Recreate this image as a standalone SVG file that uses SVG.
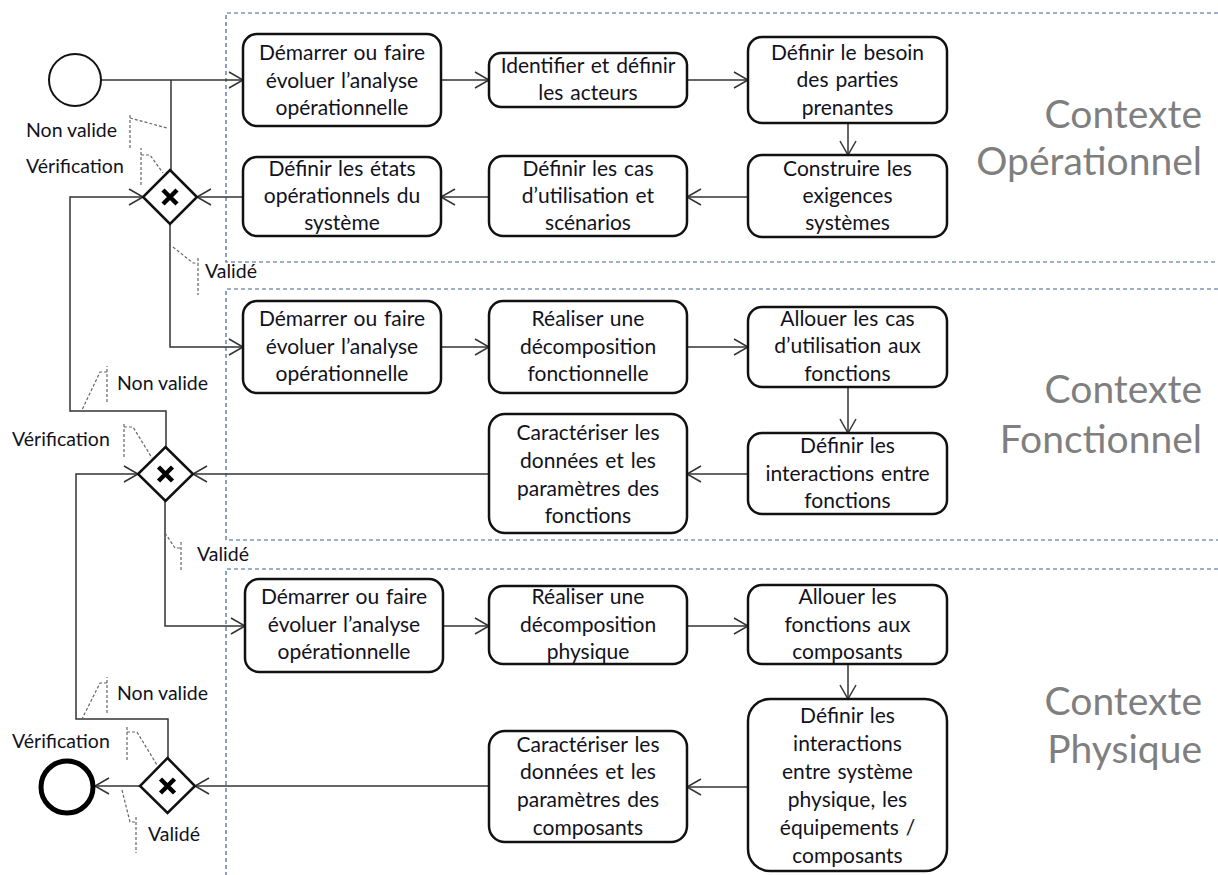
<svg xmlns="http://www.w3.org/2000/svg" width="1218" height="875" viewBox="0 0 1218 875">
<defs>
<marker id="arr" markerUnits="userSpaceOnUse" markerWidth="18" markerHeight="20" refX="15" refY="9" orient="auto">
<path d="M1,1 L15,9 L1,17" fill="none" stroke="#333" stroke-width="1.5"/>
</marker>
<style>
.box{fill:#fff;stroke:#111;stroke-width:2.5}
.t{font-family:Lato,"Open Sans",sans-serif;font-size:21px;fill:#12121c;text-anchor:middle;word-spacing:1.5px}
.lbl{font-family:Lato,"Open Sans",sans-serif;font-size:19.5px;fill:#12121c}
.ctx{font-family:Lato,"Open Sans",sans-serif;font-size:39px;fill:#7f7f7f;text-anchor:end}
.c{fill:none;stroke:#333;stroke-width:1.5}
.ca{fill:none;stroke:#333;stroke-width:1.5;marker-end:url(#arr)}
.lane{fill:none;stroke:#3f6294;stroke-width:1.2;stroke-dasharray:4 3}
.ann{fill:none;stroke:#666;stroke-width:1.2;stroke-dasharray:3 2}
.gw{fill:#fff;stroke:#111;stroke-width:2.5}
.x{stroke:#000;stroke-width:4.5;stroke-linecap:butt}
</style>
</defs>
<rect width="1218" height="875" fill="#fff"/>

<g id="lanes">
<path class="lane" d="M1225,13 H226 V262 H1225"/>
<path class="lane" d="M1225,289 H226 V540 H1225"/>
<path class="lane" d="M1225,569 H226 V880"/>
<text class="ctx" x="1202" y="128">Contexte</text>
<text class="ctx" x="1202" y="175">Opérationnel</text>
<text class="ctx" x="1202" y="403">Contexte</text>
<text class="ctx" x="1202" y="453">Fonctionnel</text>
<text class="ctx" x="1202" y="715">Contexte</text>
<text class="ctx" x="1202" y="763">Physique</text>
</g>

<g id="connectors">
<path class="ca" d="M101,80 H243"/>
<path class="c" d="M171,80 V170"/>
<path class="ca" d="M441,80 H489"/>
<path class="ca" d="M687,80 H748"/>
<path class="ca" d="M848,123 V155"/>
<path class="ca" d="M748,197 H687"/>
<path class="ca" d="M489,197 H441"/>
<path class="ca" d="M243,197 H197"/>
<path class="ca" d="M170,224 V347 H243"/>
<path class="ca" d="M166,447 V411 H70 V197 H143"/>

<path class="ca" d="M441,347 H489"/>
<path class="ca" d="M687,347 H748"/>
<path class="ca" d="M848,387 V433"/>
<path class="ca" d="M748,474 H687"/>
<path class="ca" d="M489,474 H193"/>
<path class="ca" d="M165,501 V626 H245"/>
<path class="ca" d="M168,758 V719 H76 V474 H138"/>

<path class="ca" d="M443,626 H489"/>
<path class="ca" d="M687,626 H748"/>
<path class="ca" d="M848,664 V699"/>
<path class="ca" d="M748,787 H687"/>
<path class="ca" d="M489,786 H195"/>
<path class="ca" d="M140,786 H95"/>

<g id="annotations">
<path class="ann" d="M130,148 V113 M130,118 L167,128"/>
<path class="ann" d="M141,185 V148 M141,155 H150 L163,173"/>
<path class="ann" d="M173,247 L193,263 H198 M198,258 V295"/>
<path class="ann" d="M107,402 V366 M107,372 H100 L82,410"/>
<path class="ann" d="M124,457 V422 M124,427 H133 L152,458"/>
<path class="ann" d="M165,533 L175,548 H181 M181,542 V572"/>
<path class="ann" d="M107,713 V677 M107,683 H100 L82,719"/>
<path class="ann" d="M127,760 V727 M127,732 H137 L157,765"/>
<path class="ann" d="M122,790 L130,822 H136 M136,817 V853"/>
</g>
<text class="lbl" x="26" y="137">Non valide</text>
<text class="lbl" x="26" y="173">Vérification</text>
<text class="lbl" x="205" y="278">Validé</text>
<text class="lbl" x="117" y="390">Non valide</text>
<text class="lbl" x="12" y="446">Vérification</text>
<text class="lbl" x="197" y="561">Validé</text>
<text class="lbl" x="117" y="700">Non valide</text>
<text class="lbl" x="12" y="748">Vérification</text>
<text class="lbl" x="148" y="841">Validé</text>
</g>

<g id="start"><circle cx="75" cy="80" r="26" fill="#fff" stroke="#111" stroke-width="2"/></g>
<g id="end"><circle cx="67" cy="787" r="26" fill="#fff" stroke="#000" stroke-width="5"/></g>

<g id="gw1"><path class="gw" d="M170,170 L197,197 L170,224 L143,197 Z"/><path class="x" d="M163,190 L177,204 M177,190 L163,204"/></g>
<g id="gw2"><path class="gw" d="M165.5,447 L193,474 L165.5,501 L138,474 Z"/><path class="x" d="M158.5,467 L172.5,481 M172.5,467 L158.5,481"/></g>
<g id="gw3"><path class="gw" d="M167.5,758 L195,786 L167.5,813 L140,786 Z"/><path class="x" d="M160.5,779 L174.5,793 M174.5,779 L160.5,793"/></g>

<g id="a1"><rect class="box" x="243" y="34" width="198" height="92" rx="14"/>
<text class="t" x="342" y="60">Démarrer ou faire</text><text class="t" x="342" y="88">évoluer l’analyse</text><text class="t" x="342" y="115">opérationnelle</text></g>
<g id="a2"><rect class="box" x="489" y="53" width="198" height="54" rx="12"/>
<text class="t" x="588" y="73">Identifier et définir</text><text class="t" x="588" y="100">les acteurs</text></g>
<g id="a3"><rect class="box" x="748" y="37" width="199" height="86" rx="14"/>
<text class="t" x="847.5" y="60">Définir le besoin</text><text class="t" x="847.5" y="87">des parties</text><text class="t" x="847.5" y="115">prenantes</text></g>
<g id="a4"><rect class="box" x="748" y="155" width="199" height="82" rx="14"/>
<text class="t" x="847.5" y="176">Construire les</text><text class="t" x="847.5" y="203">exigences</text><text class="t" x="847.5" y="230">systèmes</text></g>
<g id="a5"><rect class="box" x="489" y="156" width="198" height="80" rx="14"/>
<text class="t" x="588" y="176">Définir les cas</text><text class="t" x="588" y="203">d’utilisation et</text><text class="t" x="588" y="230">scénarios</text></g>
<g id="a6"><rect class="box" x="243" y="157" width="198" height="79" rx="14"/>
<text class="t" x="342" y="176">Définir les états</text><text class="t" x="342" y="203">opérationnels du</text><text class="t" x="342" y="230">système</text></g>

<g id="b1"><rect class="box" x="243" y="301" width="198" height="92" rx="14"/>
<text class="t" x="342" y="326">Démarrer ou faire</text><text class="t" x="342" y="354">évoluer l’analyse</text><text class="t" x="342" y="381">opérationnelle</text></g>
<g id="b2"><rect class="box" x="489" y="301" width="198" height="92" rx="14"/>
<text class="t" x="588" y="326">Réaliser une</text><text class="t" x="588" y="354">décomposition</text><text class="t" x="588" y="381">fonctionnelle</text></g>
<g id="b3"><rect class="box" x="748" y="307" width="199" height="80" rx="14"/>
<text class="t" x="847.5" y="326">Allouer les cas</text><text class="t" x="847.5" y="353">d’utilisation aux</text><text class="t" x="847.5" y="381">fonctions</text></g>
<g id="b4"><rect class="box" x="748" y="433" width="199" height="81" rx="14"/>
<text class="t" x="847.5" y="453">Définir les</text><text class="t" x="847.5" y="481">interactions entre</text><text class="t" x="847.5" y="508">fonctions</text></g>
<g id="b5"><rect class="box" x="489" y="414" width="198" height="119" rx="16"/>
<text class="t" x="588" y="440">Caractériser les</text><text class="t" x="588" y="468">données et les</text><text class="t" x="588" y="496">paramètres des</text><text class="t" x="588" y="523">fonctions</text></g>

<g id="c1"><rect class="box" x="245" y="579" width="198" height="93" rx="14"/>
<text class="t" x="344" y="604">Démarrer ou faire</text><text class="t" x="344" y="632">évoluer l’analyse</text><text class="t" x="344" y="659">opérationnelle</text></g>
<g id="c2"><rect class="box" x="489" y="586" width="198" height="78" rx="14"/>
<text class="t" x="588" y="604">Réaliser une</text><text class="t" x="588" y="632">décomposition</text><text class="t" x="588" y="659">physique</text></g>
<g id="c3"><rect class="box" x="748" y="585" width="199" height="79" rx="14"/>
<text class="t" x="847.5" y="604">Allouer les</text><text class="t" x="847.5" y="632">fonctions aux</text><text class="t" x="847.5" y="659">composants</text></g>
<g id="c4"><rect class="box" x="748" y="699" width="199" height="172" rx="22"/>
<text class="t" x="847.5" y="723">Définir les</text><text class="t" x="847.5" y="751">interactions</text><text class="t" x="847.5" y="779">entre système</text><text class="t" x="847.5" y="807">physique, les</text><text class="t" x="847.5" y="835">équipements /</text><text class="t" x="847.5" y="863">composants</text></g>
<g id="c5"><rect class="box" x="489" y="731" width="198" height="111" rx="16"/>
<text class="t" x="588" y="752">Caractériser les</text><text class="t" x="588" y="779">données et les</text><text class="t" x="588" y="807">paramètres des</text><text class="t" x="588" y="835">composants</text></g>
</svg>
